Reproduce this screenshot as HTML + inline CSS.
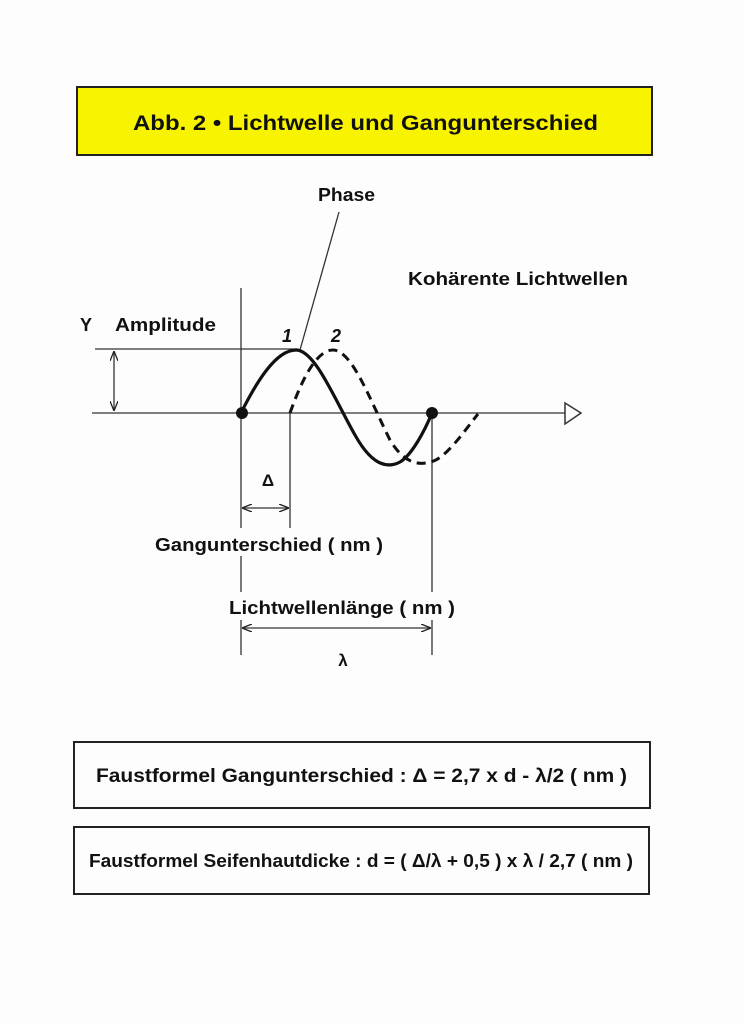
<!DOCTYPE html>
<html><head><meta charset="utf-8"><style>
body{margin:0;background:#fdfdfd;}
svg{display:block;}
text{font-family:"Liberation Sans",sans-serif;font-weight:bold;fill:#111;}
</style></head><body>
<svg width="744" height="1024" viewBox="0 0 744 1024">
<defs>
<marker id="a" markerWidth="10" markerHeight="8" refX="9" refY="4" orient="auto-start-reverse" markerUnits="userSpaceOnUse"><path d="M0,0 L10,4 L0,8" fill="none" stroke="#222" stroke-width="1.3"/></marker>
</defs>
<rect x="77" y="87" width="575" height="68" fill="#f8f400" stroke="#222" stroke-width="2"/>
<text x="133" y="130" font-size="21" textLength="465" lengthAdjust="spacingAndGlyphs">Abb. 2  •  Lichtwelle und Gangunterschied</text>
<text x="318" y="201" font-size="18" textLength="57" lengthAdjust="spacingAndGlyphs">Phase</text>
<line x1="339" y1="212" x2="300" y2="350" stroke="#333" stroke-width="1.3"/>
<text x="408" y="285" font-size="18" textLength="220" lengthAdjust="spacingAndGlyphs">Kohärente Lichtwellen</text>
<text x="80" y="331" font-size="18">Y</text>
<text x="115" y="331" font-size="18" textLength="101" lengthAdjust="spacingAndGlyphs">Amplitude</text>
<line x1="92" y1="413" x2="565" y2="413" stroke="#333" stroke-width="1.3"/>
<path d="M565,403 L581,413 L565,424 Z" fill="none" stroke="#333" stroke-width="1.5"/>
<line x1="95" y1="349" x2="298" y2="349" stroke="#333" stroke-width="1.3"/>
<line x1="114" y1="352" x2="114" y2="410" stroke="#333" stroke-width="1.3" marker-start="url(#a)" marker-end="url(#a)"/>
<line x1="241" y1="288" x2="241" y2="655" stroke="#333" stroke-width="1.3"/>
<line x1="290" y1="413" x2="290" y2="528" stroke="#333" stroke-width="1.3"/>
<line x1="432" y1="413" x2="432" y2="655" stroke="#333" stroke-width="1.3"/>
<path d="M290,413 C300,385 315,350 333,350 C352,350 370,400 390,440 C405,465 420,465 430,462 C445,460 465,430 478,414" fill="none" stroke="#111" stroke-width="3" stroke-dasharray="9,6"/>
<path d="M241,413 C255,385 275,350 296,350 C315,350 335,400 355,435 C370,462 385,470 400,462 C412,455 425,430 432,413" fill="none" stroke="#111" stroke-width="3.2"/>
<circle cx="242" cy="413" r="6" fill="#111"/>
<circle cx="432" cy="413" r="6" fill="#111"/>
<text x="282" y="342" font-size="18" font-style="italic">1</text>
<text x="331" y="342" font-size="18" font-style="italic">2</text>
<text x="268" y="486" font-size="17" text-anchor="middle">Δ</text>
<line x1="243" y1="508" x2="288" y2="508" stroke="#333" stroke-width="1.3" marker-start="url(#a)" marker-end="url(#a)"/>
<rect x="150" y="528" width="240" height="28" fill="#fdfdfd"/>
<text x="155" y="551" font-size="18" textLength="228" lengthAdjust="spacingAndGlyphs">Gangunterschied ( nm )</text>
<rect x="225" y="592" width="235" height="28" fill="#fdfdfd"/>
<text x="229" y="614" font-size="18" textLength="226" lengthAdjust="spacingAndGlyphs">Lichtwellenlänge ( nm )</text>
<line x1="243" y1="628" x2="430" y2="628" stroke="#333" stroke-width="1.3" marker-start="url(#a)" marker-end="url(#a)"/>
<text x="343" y="666" font-size="17" text-anchor="middle">λ</text>
<rect x="74" y="742" width="576" height="66" fill="none" stroke="#222" stroke-width="2"/>
<text x="96" y="782" font-size="19" textLength="531" lengthAdjust="spacingAndGlyphs">Faustformel Gangunterschied :  Δ = 2,7 x d - λ/2  ( nm )</text>
<rect x="74" y="827" width="575" height="67" fill="none" stroke="#222" stroke-width="2"/>
<text x="89" y="867" font-size="18" textLength="544" lengthAdjust="spacingAndGlyphs">Faustformel Seifenhautdicke :  d = ( Δ/λ + 0,5 ) x λ / 2,7  ( nm )</text>
</svg>
</body></html>
